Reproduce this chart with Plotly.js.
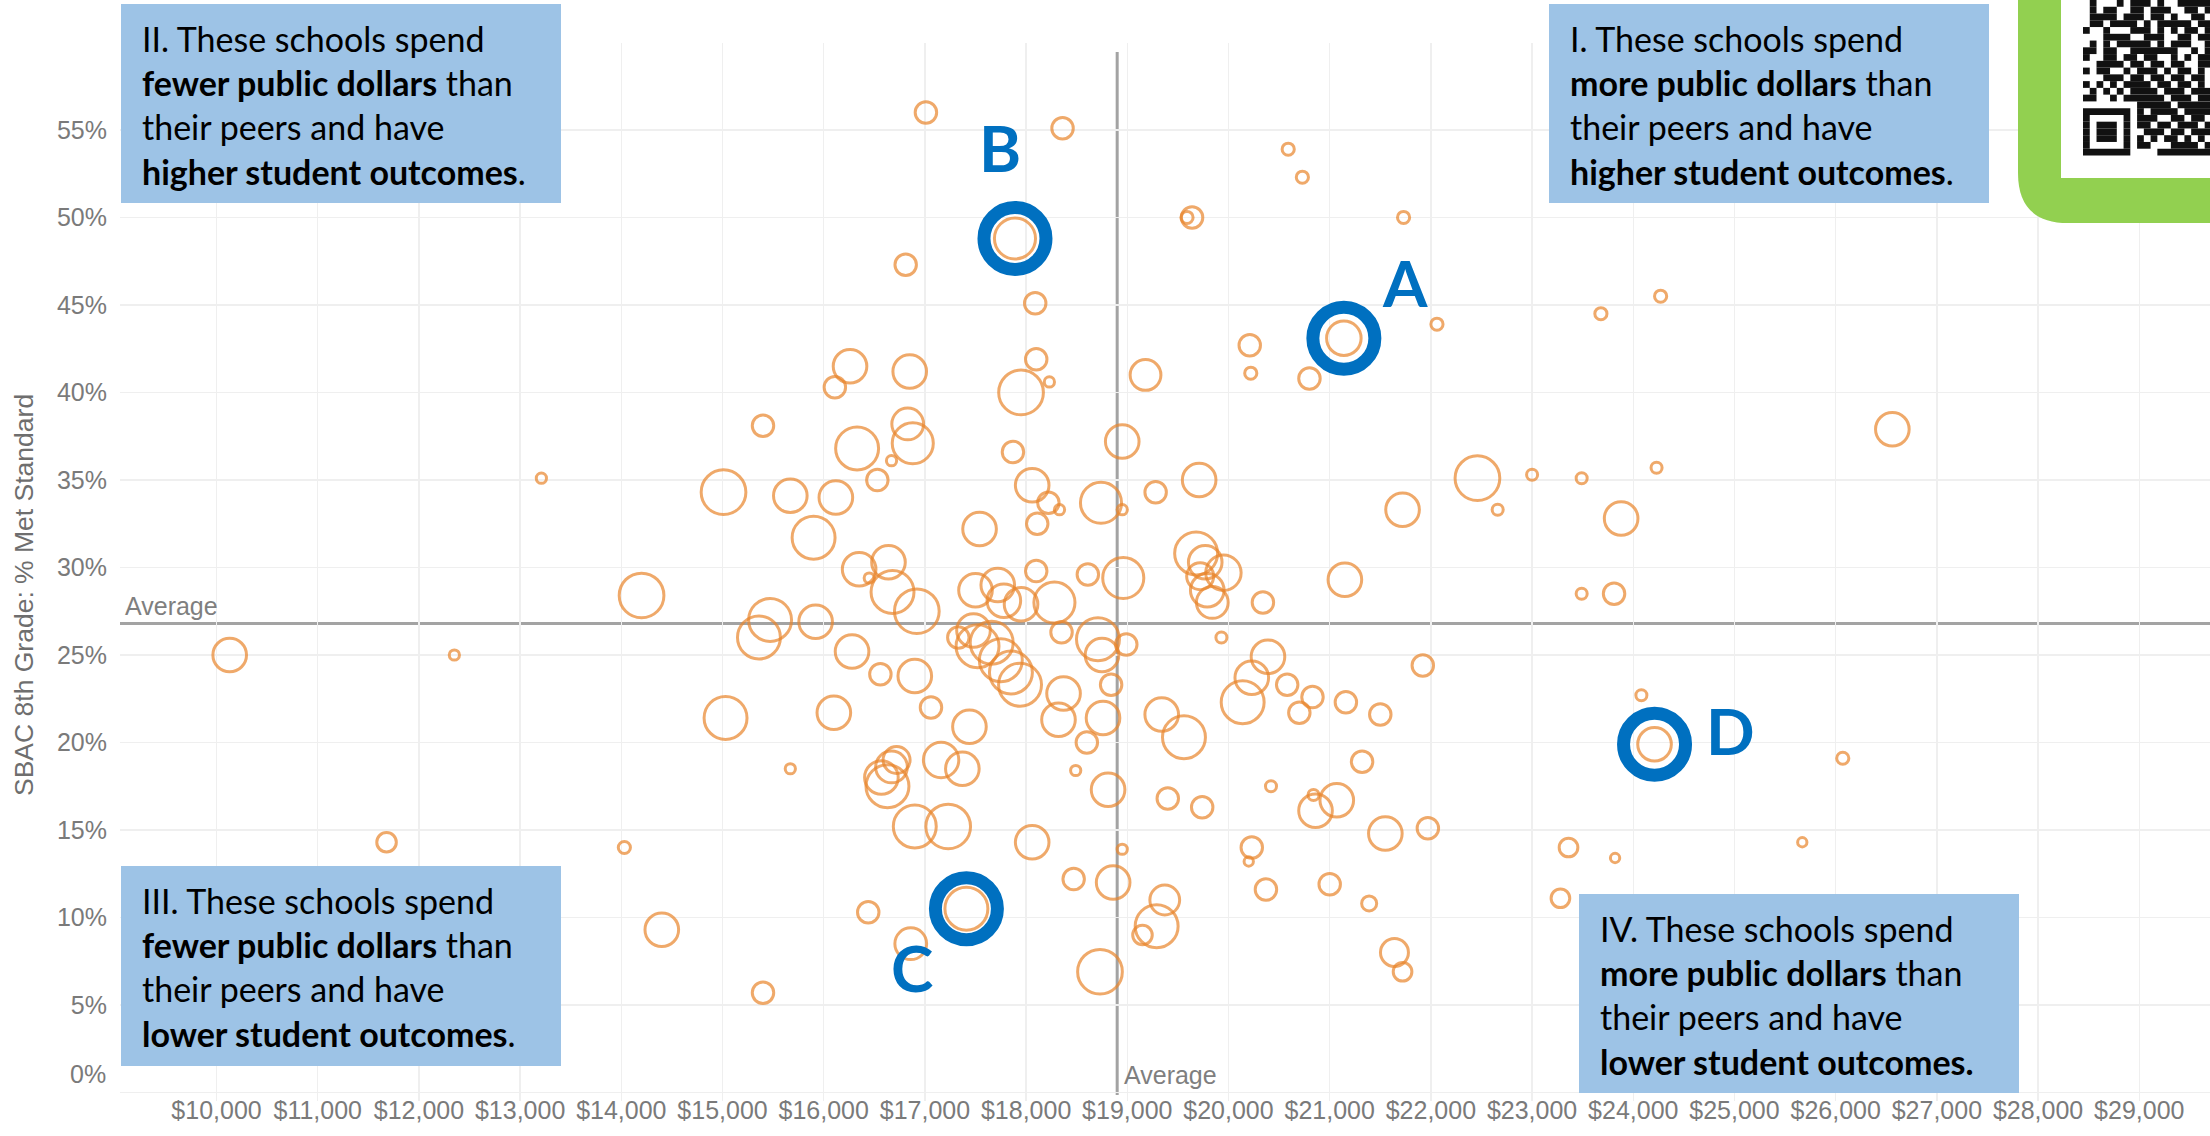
<!DOCTYPE html>
<html><head><meta charset="utf-8">
<script src="https://cdn.plot.ly/plotly-3.0.1.min.js"></script>
<style>html,body{margin:0;padding:0;background:#fff;overflow:hidden}#chart{width:2210px;height:1136px}</style>
</head><body><div id="chart"></div>
<script>
// ---------- data ----------
const spend = [17010,18360,20590,20730,19640,19590,21730,17890,16810,18090,
21140,22060,20210,20220,20800,23680,24270,28790,16260,16110,
16850,18100,18230,17950,19180,15400,16830,16330,16880,16670,
17870,18950,16530,15010,15670,16120,15900,18060,18220,18330,
18110,18740,18950,19280,17540,14200,16350,16640,16450,16680,
16920,18100,18610,18960,17500,17720,17780,17950,18280,15470,
15360,15920,16280,17330,17480,17520,17660,17750,17850,17940,
18350,18710,18990,18750,16560,16900,18370,18840,15030,16100,
17060,17440,18320,18760,18600,19340,15670,16720,16670,16570,
16630,17160,17370,18490,18810,16900,17230,18060,18950,14030,
18470,18860,16440,17410,16860,14400,15400,18730,19370,19150,
19290,19680,19770,19950,19720,19790,19840,20340,21150,23490,
23810,19930,20390,20230,20140,20580,20830,20700,21160,21500,
21920,19560,19400,19740,20420,20840,20860,21070,21320,24080,
21550,21970,21720,22460,22660,23000,23490,24230,23880,19710,
26560,24210,26070,20230,20200,20370,21000,21390,21640,21720,
23360,23820,23280,25670,13210,10130,12350,11680];

const pctMet = [56.0,55.1,53.9,52.3,50.0,50.0,50.0,48.8,47.3,45.1,
43.1,43.9,42.7,41.1,40.8,44.5,45.5,50.5,41.5,40.3,
41.2,41.9,40.6,40.0,41.0,38.1,38.2,36.8,37.1,36.1,
36.6,37.2,35.0,34.3,34.1,34.0,31.7,34.7,33.7,33.3,
32.5,33.7,33.3,34.3,32.2,28.4,29.9,30.3,29.4,28.6,
27.5,29.8,29.6,29.4,28.7,29.0,28.1,27.9,28.0,27.0,
26.0,26.9,25.2,26.0,26.4,25.5,25.7,24.7,24.0,23.3,
26.3,25.9,25.6,25.0,23.9,23.8,22.8,23.3,21.4,21.7,
22.0,20.9,21.3,21.4,20.0,21.6,18.5,19.0,18.6,18.0,
17.5,19.0,18.5,18.4,17.3,15.2,15.2,14.3,13.9,14.0,
12.2,12.0,10.3,10.5,8.5,9.3,5.7,6.9,11.0,9.0,
9.5,30.8,30.3,29.7,29.5,28.7,28.0,28.0,29.3,28.5,
28.5,26.0,24.9,23.7,22.3,23.3,22.6,21.7,22.3,21.6,
24.4,20.3,16.8,16.3,17.5,17.0,16.1,16.7,18.9,22.7,
14.8,15.1,33.3,35.1,33.3,35.3,35.1,35.7,32.8,35.0,
37.9,19.9,19.1,14.0,13.2,11.6,11.9,10.8,8.0,6.9,
14.0,13.4,11.1,14.3,35.1,25.0,25.0,14.3];

const enrollment = [265,265,85,85,265,85,85,970,265,265,
685,85,265,85,265,85,85,265,650,265,
650,265,60,1150,545,265,580,1060,970,60,
265,650,265,1150,650,650,1060,650,265,60,
265,970,60,265,650,1150,650,650,60,1060,
1150,265,265,970,650,650,650,650,970,1060,
1060,650,650,265,650,1060,1060,1060,1060,1060,
265,1060,265,650,265,650,650,265,1060,650,
265,650,650,650,265,650,60,420,580,650,
1060,720,650,60,650,1060,1150,650,60,85,
265,650,265,1060,580,650,265,1150,510,220,
1060,1060,650,720,420,650,580,265,650,70,
265,70,650,650,1060,265,265,265,265,265,
265,1060,265,265,70,70,650,650,265,70,
650,265,650,1150,70,70,70,70,650,650,
650,650,85,265,50,265,265,130,450,200,
200,50,200,50,60,650,60,220];

const avgSpend = 18900;   // average per-pupil public dollars
const avgMet = 26.8;      // average % met standard

const yTickVals = [0,5,10,15,20,25,30,35,40,45,50,55];
const yTickText = ['0%','5%','10%','15%','20%','25%','30%','35%','40%','45%','50%','55%'];

const markerLabels = ['A','B','C','D'];
const markerSpend = [21140, 17890, 17410, 24210];
const markerMet = [43.1, 48.8, 10.5, 19.9];

const yTitle = 'SBAC 8th Grade: % Met Standard';
const avgLabel = 'Average';
const quadrantTexts = [
  'I. These schools spend<br><b>more public dollars</b> than<br>their peers and have<br><b>higher student outcomes</b>.',
  'II. These schools spend<br><b>fewer public dollars</b> than<br>their peers and have<br><b>higher student outcomes</b>.',
  'III. These schools spend<br><b>fewer public dollars</b> than<br>their peers and have<br><b>lower student outcomes</b>.',
  'IV. These schools spend<br><b>more public dollars</b> than<br>their peers and have<br><b>lower student outcomes.</b>'
];

// ---------- layout geometry ----------
const W = 2210, H = 1136, ML = 120, MR = 0, MT = 43, MB = 35;
const PW = W - ML - MR, PH = H - MT - MB;
const px = x => (x - ML) / PW;
const py = y => (H - MB - y) / PH;

const ORANGE = '#E8852B', BLUE = '#0070C0', BOXBLUE = '#9DC3E6', GREEN = '#92D050';

const shapes = [
  {type:'line', xref:'x', yref:'paper', x0:avgSpend, x1:avgSpend, y0:py(1095), y1:py(52), line:{color:'#A3A3A3', width:3}, layer:'below'},
  {type:'line', xref:'paper', yref:'y', x0:0, x1:1, y0:avgMet, y1:avgMet, line:{color:'#A3A3A3', width:3}, layer:'below'}
];

// quadrant boxes
const boxes = [[1549,4,1989,203],[121,4,561,203],[121,866,561,1066],[1579,894,2019,1093]];
boxes.forEach(b => shapes.push({type:'rect', xref:'paper', yref:'paper', layer:'above', line:{width:0}, fillcolor:BOXBLUE,
  x0:px(b[0]), x1:px(b[2]), y0:py(b[3]), y1:py(b[1])}));

// QR badge (decorative)
const R = 50;
shapes.push({type:'path', xref:'paper', yref:'paper', layer:'above', line:{width:0}, fillcolor:GREEN,
  path:`M ${px(2018)},${py(-20)} L ${px(2018)},${py(223-R)} Q ${px(2018)},${py(223)} ${px(2018+R)},${py(223)} L ${px(2240)},${py(223)} L ${px(2240)},${py(-20)} Z`});
shapes.push({type:'rect', xref:'paper', yref:'paper', layer:'above', line:{width:0}, fillcolor:'#FFFFFF',
  x0:px(2061), x1:px(2240), y0:py(178), y1:py(-20)});
const qrRows = [
 "0100010111010011111","0101100110111001101","0111101110110100110","0110111101011111011",
 "1001000111010101101","0001111001110011011","0101011111010111001","1101100111111100101",
 "1001101101100101011","0011110110110110011","1011001011101011010","0001110110110110110",
 "1010101111011011010","0101010111101110111","1100101111110111011","0000000011111011111",
 "1111111010111101111","1000001011100110110","1011101011011011101","1011101001110110111",
 "1011101010101101010","1000001011000111101","1111111000011111111"];
const QM = 6.76, QX = 2083, QY = 0;
qrRows.forEach((row, r) => {
  let c = 0;
  while (c < row.length) {
    if (row[c] === '1') {
      let e = c; while (e < row.length && row[e] === '1') e++;
      shapes.push({type:'rect', xref:'paper', yref:'paper', layer:'above', line:{width:0}, fillcolor:'#111111',
        x0:px(QX + c*QM), x1:px(QX + e*QM), y0:py(QY + (r+1)*QM), y1:py(QY + r*QM)});
      c = e;
    } else c++;
  }
});

const boxFont = {family:'Lato, "Open Sans", sans-serif', size:34, color:'#000'};
const annotations = quadrantTexts.map((t,i) => ({
  xref:'paper', yref:'paper', x:px(boxes[i][0] + 19), y:py((boxes[i][1] + boxes[i][3]) / 2 + 1),
  xanchor:'left', yanchor:'middle', align:'left', showarrow:false, text:t, font:boxFont
}));

const tickFont = {family:'Liberation Sans, Arial, sans-serif', size:25, color:'#7A7A7A'};
const labelFont = {family:'Liberation Sans, Arial, sans-serif', size:25, color:'#7F7F7F'};
annotations.push({xref:'paper', yref:'y', x:0, y:avgMet, xanchor:'left', yanchor:'bottom', xshift:3, yshift:1,
  showarrow:false, text:avgLabel, font:labelFont});
annotations.push({xref:'x', yref:'paper', x:avgSpend, y:0, xanchor:'left', yanchor:'bottom', xshift:5, yshift:10,
  showarrow:false, text:avgLabel, font:labelFont});
annotations.push({xref:'paper', yref:'paper', x:px(24), y:py(595), xanchor:'center', yanchor:'middle', textangle:-90,
  showarrow:false, text:yTitle, font:{family:'Liberation Sans, Arial, sans-serif', size:26.5, color:'#6E6E6E'}});
// the bottom tick label sits a little above its gridline, as in the reference
annotations.push({xref:'paper', yref:'y', x:0, y:yTickVals[0], xanchor:'right', yanchor:'middle', xshift:-12, yshift:18,
  showarrow:false, text:yTickText[0], font:tickFont});

const letterOffsets = [[61,56],[-15,91],[-54,-59],[76,14]];
markerLabels.forEach((lab,i) => {
  annotations.push({xref:'x', yref:'y', x:markerSpend[i], y:markerMet[i], xshift:letterOffsets[i][0], yshift:letterOffsets[i][1],
    xanchor:'center', yanchor:'middle', showarrow:false, text:'<b>'+lab+'</b>',
    font:{family:'Lato, "Open Sans", sans-serif', size:64, color:BLUE}});
});

const traces = [
  {type:'scatter', mode:'markers', x:spend, y:pctMet, hoverinfo:'skip',
   marker:{symbol:'circle-open', size:enrollment, sizemode:'area', sizeref:1.15, color:ORANGE, line:{width:3}}},
  {type:'scatter', mode:'markers', x:markerSpend, y:markerMet, hoverinfo:'skip',
   marker:{symbol:'circle-open', size:62, color:BLUE, line:{width:13}}}
];

const layout = {
  width:W, height:H, margin:{l:ML, r:MR, t:MT, b:MB, pad:0},
  paper_bgcolor:'#fff', plot_bgcolor:'#fff', showlegend:false,
  font:{family:'Liberation Sans, Arial, sans-serif'},
  xaxis:{range:[9046, 29699], tick0:0, dtick:1000, tickformat:'$,.0f', showgrid:true, gridcolor:'#EFEFEF', gridwidth:1.5,
         zeroline:false, showline:false, ticks:'', tickfont:tickFont, ticklabelstandoff:-8, automargin:false},
  yaxis:{range:[-0.486, 59.97], tickmode:'array', tickvals:yTickVals, ticktext:[''].concat(yTickText.slice(1)),
         showgrid:true, gridcolor:'#EFEFEF', gridwidth:1.5,
         zeroline:false, showline:false, ticks:'', tickfont:tickFont, ticklabelstandoff:12, automargin:false},
  shapes:shapes, annotations:annotations
};
Plotly.newPlot('chart', traces, layout, {displayModeBar:false, staticPlot:true});
</script></body></html>
